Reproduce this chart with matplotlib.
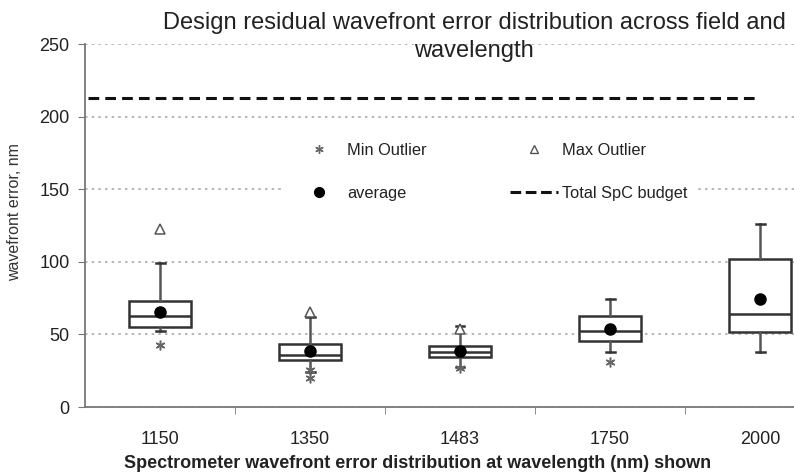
import matplotlib.pyplot as plt
from matplotlib.lines import Line2D

plt.rcParams['font.family'] = ['Liberation Sans', 'DejaVu Sans']

# values (nm)
wavelengths = ['1150', '1350', '1483', '1750', '2000']
whisker_low = [52.3, 24.3, 27.5, 37.6, 37.6]
q1 = [55.3, 32.4, 34.5, 45.5, 51.4]
medians = [62.7, 36.0, 38.0, 52.0, 64.0]
q3 = [73.2, 43.4, 42.0, 62.9, 102.0]
whisker_high = [99.4, 62.0, 56.0, 74.4, 125.8]
averages = [65.2, 38.6, 38.6, 53.5, 74.4]
min_outliers = [[42.7], [25.5, 20.0], [27.0], [31.2], []]
max_outliers = [[122.4], [65.6], [54.0], [], []]
budget = 212.8

fig = plt.figure(figsize=(7.94, 4.72), dpi=100)
ax = fig.add_axes([85 / 794, 65 / 472, 750 / 794, 363 / 472])

stats = []
for i in range(len(wavelengths)):
    stats.append({'med': medians[i], 'q1': q1[i], 'q3': q3[i],
                  'whislo': whisker_low[i], 'whishi': whisker_high[i],
                  'mean': averages[i], 'fliers': []})

pos = list(range(len(wavelengths)))
ax.bxp(stats, positions=pos, widths=0.41, showmeans=True, showfliers=False,
       showcaps=True, patch_artist=True,
       boxprops=dict(facecolor='white', edgecolor='#333333', linewidth=1.8),
       medianprops=dict(color='#333333', linewidth=1.8),
       whiskerprops=dict(color='#555555', linewidth=1.8),
       capprops=dict(color='#333333', linewidth=1.8),
       meanprops=dict(marker='o', markerfacecolor='black', markeredgecolor='black',
                      markersize=8), capwidths=0.06)

for i in pos:
    if min_outliers[i]:
        ax.plot([i] * len(min_outliers[i]), min_outliers[i], linestyle='none',
                marker=(6, 2, 0), color='#666666', markersize=7, mew=1.1)
    if max_outliers[i]:
        ax.plot([i] * len(max_outliers[i]), max_outliers[i], linestyle='none',
                marker='^', mfc='white', mec='#555555', markersize=7, mew=1.1)

ax.plot([-0.48, 4.0], [budget, budget], color='#111111', linestyle=(0, (3.5, 2)),
        linewidth=2.2)

ax.set_xlim(-0.5, 4.5)
ax.set_ylim(0, 250)
ax.set_yticks([0, 50, 100, 150, 200, 250])
ax.set_xticks(pos)
ax.set_xticklabels(wavelengths)
ax.set_xticks([0.5, 1.5, 2.5, 3.5], minor=True)
ax.tick_params(axis='x', which='major', length=0, pad=17, labelsize=13, labelcolor='#222222')
ax.tick_params(axis='x', which='minor', length=5, color='#777777')
ax.tick_params(axis='y', length=5, color='#777777', labelsize=13, labelcolor='#222222', pad=6)
ax.yaxis.grid(True, linestyle=(0, (1.5, 2.5)), color='#aaaaaa', linewidth=1.2)
ax.set_axisbelow(True)
for s in ['top', 'right']:
    ax.spines[s].set_visible(False)
for s in ['left', 'bottom']:
    ax.spines[s].set_color('#777777')
    ax.spines[s].set_linewidth(1.3)

ax.set_ylabel('wavefront error, nm', fontsize=11.5, color='#333333')
ax.yaxis.set_label_coords(-63 / 750, (407 - 212) / 363)
fig.text(418 / 794, 1 - 464 / 472,
         'Spectrometer wavefront error distribution at wavelength (nm) shown',
         ha='center', va='center', fontsize=13, fontweight='bold', color='#222222')
fig.text(474 / 794, 1 - 37 / 472,
         'Design residual wavefront error distribution across field and\nwavelength',
         ha='center', va='center', fontsize=17, color='#222222', linespacing=1.3)

handles = [
    Line2D([], [], linestyle='none', marker=(6, 2, 0), color='#666666', markersize=6, mew=1.0),
    Line2D([], [], linestyle='none', marker='o', color='black', markersize=7),
    Line2D([], [], linestyle='none', marker='^', mfc='white', mec='#555555', markersize=6, mew=1.0),
    Line2D([], [], color='#111111', linestyle=(0, (3.5, 1.5)), linewidth=2.2),
]
labels = ['Min Outlier', 'average', 'Max Outlier', 'Total SpC budget']
leg = ax.legend(handles, labels, ncol=2, loc='center',
                bbox_to_anchor=(491 / 794, 1 - 172 / 472), bbox_transform=fig.transFigure,
                frameon=True, facecolor='white', edgecolor='none', framealpha=1,
                fontsize=11.8, handlelength=2.93, handletextpad=0.25,
                columnspacing=5.1, labelspacing=1.7, borderpad=0.6)
for t in leg.get_texts():
    t.set_color('#222222')

fig.savefig('out.png', dpi=100)
